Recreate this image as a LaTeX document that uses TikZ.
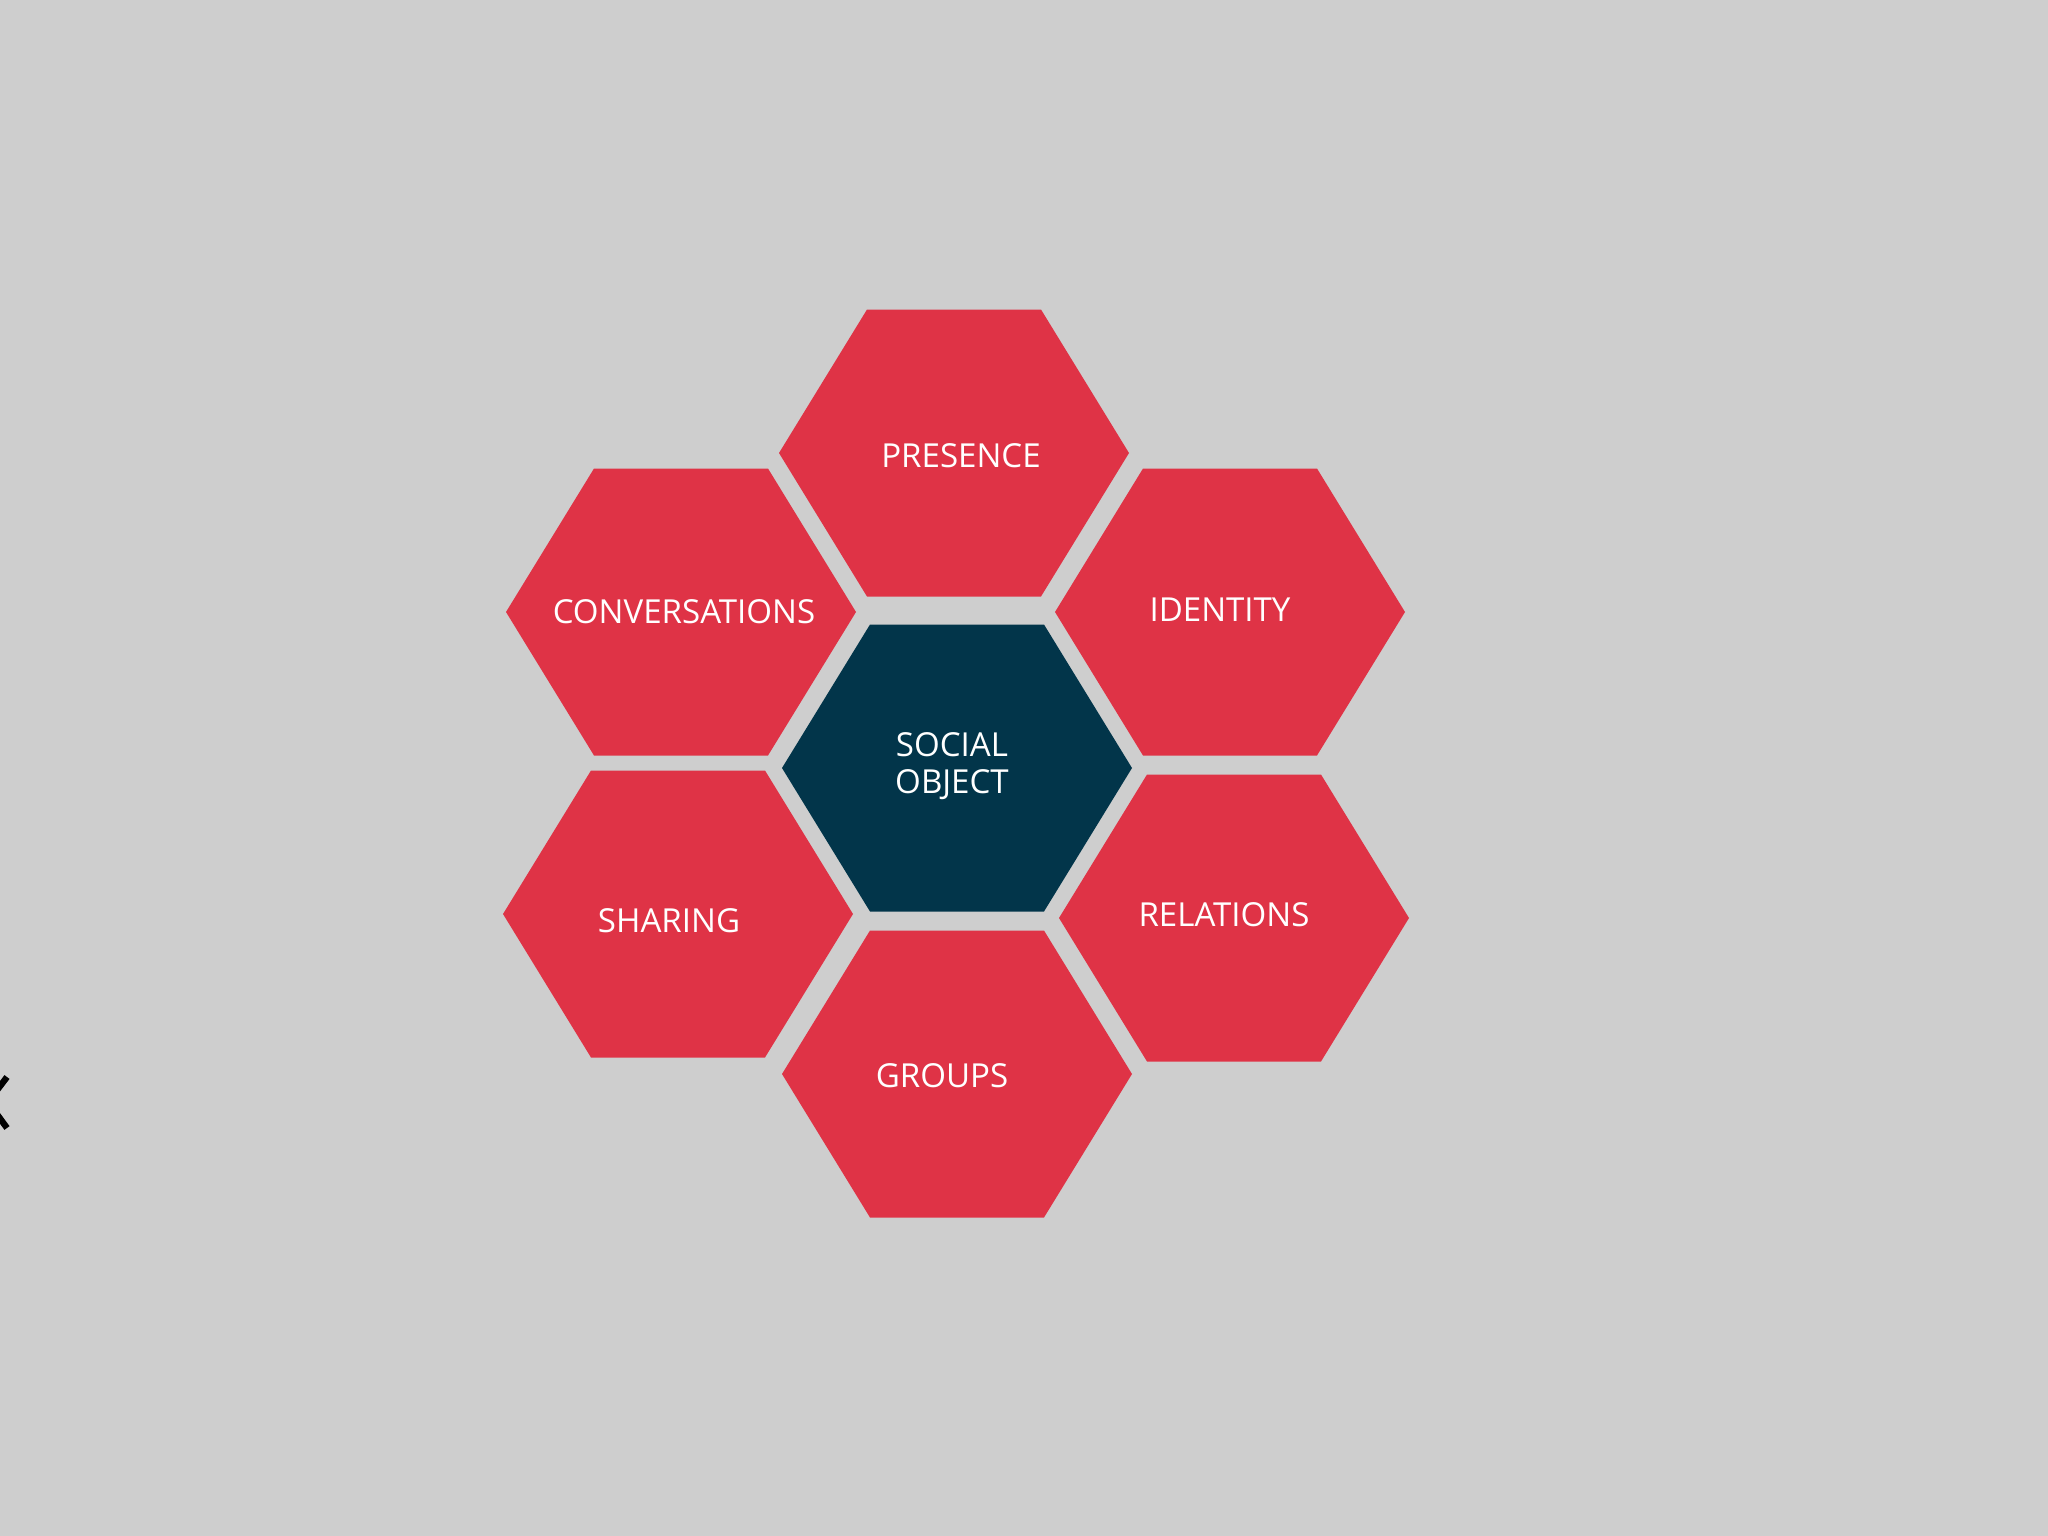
\documentclass[tikz,border=0pt]{standalone}
\usepackage{fontspec}
\setmainfont{Open Sans}
\definecolor{hexred}{RGB}{223,51,70}
\definecolor{hexnavy}{RGB}{2,53,74}
\definecolor{bggray}{RGB}{206,206,206}
\tikzset{
  lbl/.style={text=white,font=\fontsize{9.4}{10.4}\selectfont,inner sep=0pt,align=center}
}

\begin{document}
\begin{tikzpicture}[x=0.01cm,y=-0.01cm]
\useasboundingbox[fill=bggray] (0,0) rectangle (2048,1536);
\clip (0,0) rectangle (2048,1536);
\path
  coordinate (presence) at (954,453)
  coordinate (conversations) at (681,612)
  coordinate (identity) at (1230,612)
  coordinate (social) at (957,768)
  coordinate (sharing) at (678,914)
  coordinate (relations) at (1234,918)
  coordinate (groups) at (957,1074)
  ;
\foreach \c in {presence,conversations,identity,sharing,relations,groups}
  \fill[hexred,shift={(\c)}]
    (-175,0) -- (-87,-143.5) -- (87,-143.5) --
    (175,0) -- (87,143.5) -- (-87,143.5) -- cycle;
\fill[hexnavy,shift={(social)}]
  (-175,0) -- (-87,-143.5) -- (87,-143.5) --
  (175,0) -- (87,143.5) -- (-87,143.5) -- cycle;
% cut letter at the left edge
\draw[line width=1.8pt]
  (7,1077) -- (-12,1102) -- (7,1128);
\node[lbl] (presence-txt) at (961,456) {PRESENCE};
\node[lbl] (conversations-txt) at (684,612) {CONVERSATIONS};
\node[lbl] (identity-txt) at (1220,610) {IDENTITY};
\node[lbl] (social-txt) at (952,766) {SOCIAL\\OBJECT};
\node[lbl] (sharing-txt) at (669,921) {SHARING};
\node[lbl] (relations-txt) at (1224,915) {RELATIONS};
\node[lbl] (groups-txt) at (942,1076) {GROUPS};
\end{tikzpicture}
\end{document}
